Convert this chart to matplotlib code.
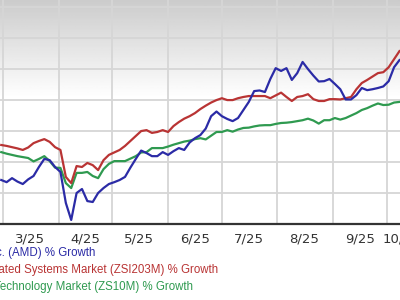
import numpy as np
import pandas as pd
import matplotlib
matplotlib.use("Agg")
import matplotlib.pyplot as plt
import matplotlib.dates as mdates

# % growth, one point every 3 days from 2025-02-28
dates = pd.date_range("2025-02-28", periods=75, freq="3D")

amd = [-25.8, -26.5, -25.2, -26.3, -27.1, -25.6, -24.5, -21.6, -19.0, -19.4,
       -21.6, -23.2, -33.2, -38.7, -30.0, -28.7, -32.6, -32.9, -30.0, -28.4,
       -27.1, -26.5, -25.8, -24.8, -21.8, -19.0, -16.3, -17.1, -18.1, -18.1,
       -16.8, -17.7, -16.5, -15.5, -16.1, -13.7, -12.3, -11.3, -9.2, -5.2,
       -3.7, -5.2, -6.1, -6.8, -5.8, -3.2, -0.6, 2.9, 3.1, 2.6,
       6.8, 10.3, 9.4, 10.3, 6.5, 8.7, 12.3, 10.0, 7.9, 6.0,
       6.1, 6.8, 5.2, 3.5, 0.2, 0.2, 1.6, 3.9, 3.2, 3.5,
       3.9, 4.4, 6.1, 10.6, 12.9]

industry = [-14.5, -14.8, -15.2, -15.6, -16.1, -15.3, -13.9, -13.2, -12.6, -13.5,
            -15.2, -16.1, -24.8, -26.8, -21.3, -21.6, -20.3, -21.0, -22.6, -19.4,
            -17.7, -16.9, -16.1, -14.8, -13.2, -11.6, -10.0, -9.7, -10.6, -10.3,
            -9.7, -10.3, -8.4, -7.1, -6.0, -5.2, -4.2, -2.9, -1.8, -0.8,
            0.0, 0.6, 0.0, 0.0, 0.6, 1.0, 1.3, 1.3, 1.3, 1.3,
            0.6, 1.5, 2.4, 1.0, -0.3, 1.0, 1.3, 1.9, 0.3, -0.3,
            -0.3, 0.3, 0.3, 0.2, 0.6, 1.0, 3.5, 5.5, 6.5, 7.6,
            8.7, 9.0, 10.6, 13.2, 15.8]

sector = [-16.8, -17.3, -17.7, -18.1, -18.4, -18.7, -19.8, -19.0, -18.1, -19.7,
          -21.8, -21.9, -26.8, -28.4, -23.5, -23.5, -23.2, -24.5, -25.2, -22.3,
          -20.6, -19.7, -19.7, -19.7, -18.9, -18.1, -16.9, -16.8, -15.5, -15.5,
          -15.5, -15.0, -14.4, -13.9, -13.4, -13.1, -12.6, -12.3, -12.7, -11.5,
          -10.3, -10.3, -9.7, -10.2, -9.5, -9.0, -8.9, -8.5, -8.2, -8.1,
          -8.1, -7.7, -7.4, -7.3, -7.1, -6.8, -6.5, -6.0, -6.6, -7.6,
          -6.5, -6.5, -5.8, -6.3, -5.8, -5.0, -4.2, -3.2, -2.6, -1.8,
          -1.1, -1.6, -1.5, -0.8, -0.6]

legend_labels = ["Advanced Micro Devices, Inc. (AMD) % Growth",
                 "Computer - Integrated Systems Market (ZSI203M) % Growth",
                 "Computer and Technology Market (ZS10M) % Growth"]

blue, red, green = "#2b2ba6", "#b93434", "#2f9a50"

fig = plt.figure(figsize=(4, 3), dpi=100)
ax = fig.add_axes([0, 76 / 300, 1, 224 / 300])

# background: white at the bottom, fading to gray at the top
grad = np.concatenate([np.ones(90), np.linspace(1.0, 0.80, 70)])[:, None]
ax.imshow(grad, cmap="gray", vmin=0, vmax=1, aspect="auto", origin="lower",
          extent=[0, 1, 0, 1], transform=ax.transAxes, zorder=0)

ax.plot(dates, sector, color=green, lw=1.6, zorder=3)
ax.plot(dates, industry, color=red, lw=1.6, zorder=4)
ax.plot(dates, amd, color=blue, lw=1.6, zorder=5)

start = mdates.date2num(pd.Timestamp("2025-03-01"))
ax.set_xlim(start - 1.7, start + 221.3)
ax.set_ylim(-40, 32.3)

ax.xaxis.set_major_locator(mdates.MonthLocator())
ax.xaxis.set_major_formatter(plt.NullFormatter())
ax.xaxis.set_minor_locator(mdates.MonthLocator(bymonthday=16))
ax.xaxis.set_minor_formatter(mdates.DateFormatter("%-m/%y"))
ax.set_yticks(np.arange(-30, 31, 10))
ax.tick_params(axis="x", which="both", length=0, pad=6,
               labelsize=9.5, labelcolor="#333333")
ax.tick_params(axis="y", left=False, labelleft=False)
ax.grid(True, which="major", color="#d6d6d6", lw=1.3)
ax.set_axisbelow(True)

# last month label, partly beyond the right edge
ax.annotate("10/25", xy=(pd.Timestamp("2025-10-09"), 0),
            xycoords=("data", "axes fraction"), xytext=(0, -6),
            textcoords="offset points", ha="center", va="top",
            fontsize=9.5, color="#333333", annotation_clip=False)

for s in ["top", "left", "right"]:
    ax.spines[s].set_visible(False)
ax.spines["bottom"].set_color("#333333")
ax.spines["bottom"].set_linewidth(1.6)

ends = [95, 218, 193]
rows = [253, 270, 287]
for lab, col, xe, ye in zip(legend_labels, [blue, red, green], ends, rows):
    fig.text(xe / 400, 1 - ye / 300, lab, color=col, fontsize=8.3,
             ha="right", va="center", family="Liberation Sans")

fig.savefig("out.png", dpi=100)
